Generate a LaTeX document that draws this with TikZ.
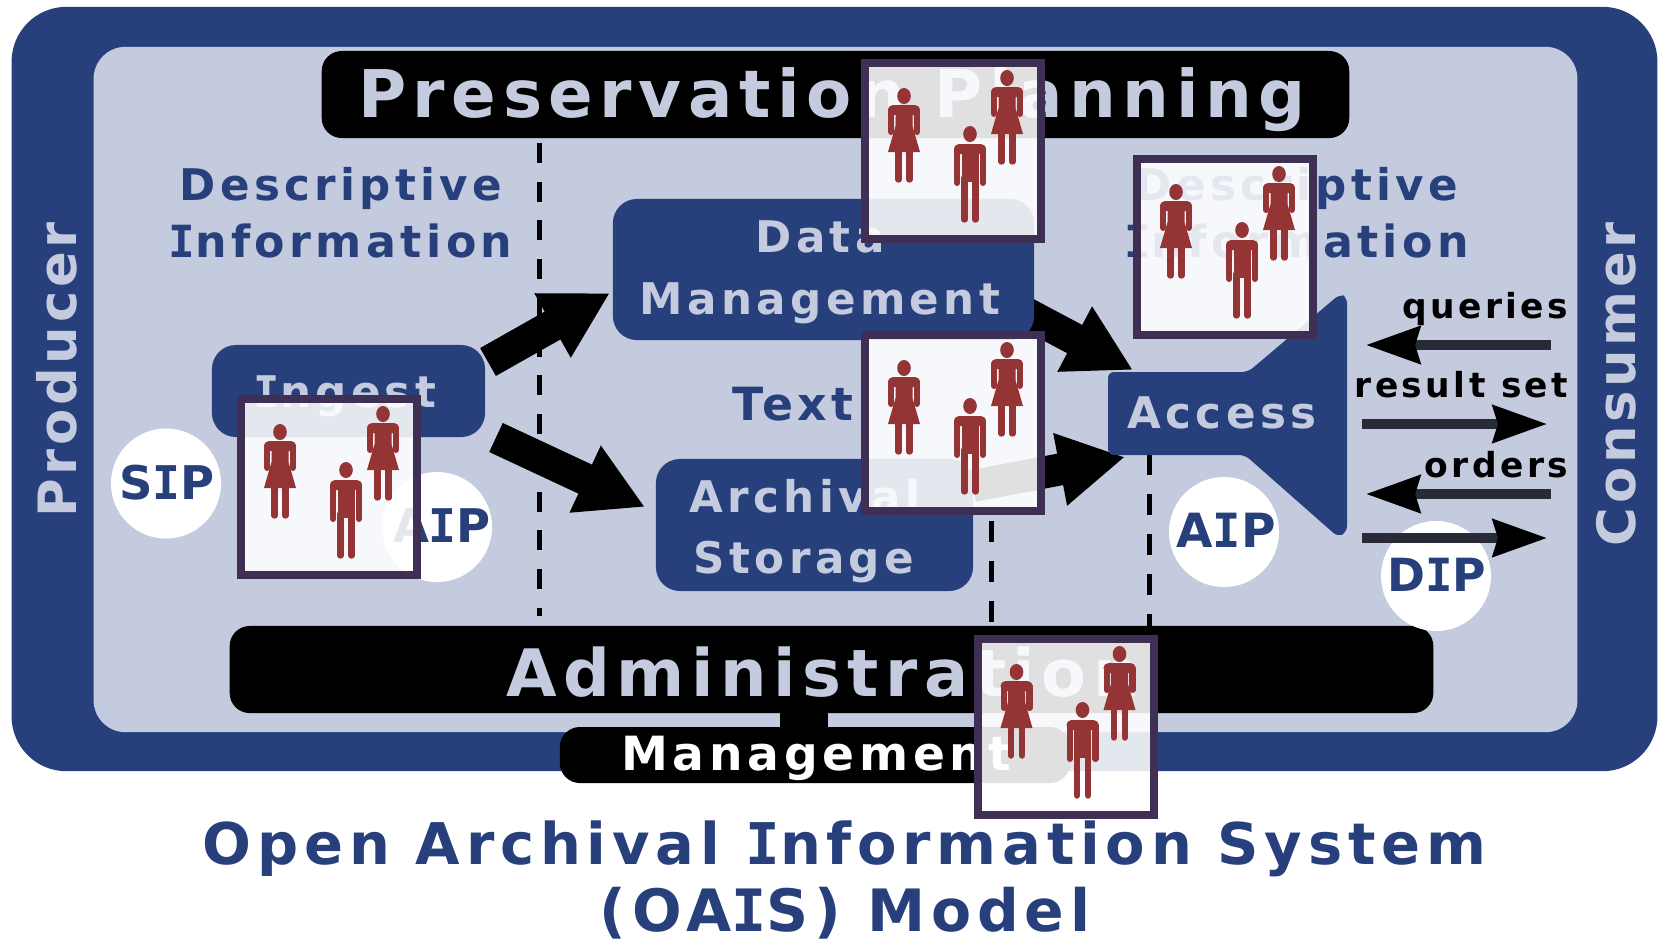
\documentclass[tikz,border=0pt]{standalone}
\usepackage{fontspec}
\setmainfont{DejaVu Sans}[LetterSpace=10]
\newfontfamily\slabfont{DejaVu Sans Mono}[LetterSpace=10]
\newfontfamily\sidefont{DejaVu Sans}[LetterSpace=7]
\newcommand\slabI{{\slabfont I}}
\usetikzlibrary{arrows.meta}

\definecolor{oaisblue}{HTML}{27407B}
\definecolor{oaislight}{HTML}{C4CBDF}
\definecolor{framepurple}{HTML}{402F55}
\definecolor{figred}{HTML}{943434}
\definecolor{arrowgrey}{HTML}{282B35}

\tikzset{
    label/.style={font=\bfseries\fontsize{#1}{#1}\selectfont, inner sep=0pt, anchor=base},
    panel/.style={fill=#1, inner sep=0pt},
    darkbox/.style={panel=black, rounded corners=.2cm},
    bluebox/.style={panel=oaisblue, rounded corners=.24cm},
    blob/.style={circle, fill=white, inner sep=0pt, minimum size=1.1cm},
    blockarrow/.style={line width=.32cm, -{Triangle[length=.66cm,width=.69cm]}},
    flowarrow/.style={arrowgrey, line width=.093cm, -{Stealth[length=.54cm,width=.37cm,inset=.05cm,black]}},
    dashline/.style={line width=.05cm, dash pattern=on .21cm off .19cm},
    limb/.style={figred, line width=.064cm, line cap=round},
    womanfig/.pic={
        \fill [figred] (0,0) ellipse [x radius=6.8, y radius=8];
        \fill [figred, rounded corners=.05cm] (-16,9) rectangle (16,19);
        \fill [figred] (-8.5,12) -- (8.5,12) -- (8.5,30) -- (16,56) -- (-16,56) -- (-8.5,30) -- cycle;
        \draw [limb] (-12.8,14) -- (-12.8,35.8);
        \draw [limb] (12.8,14) -- (12.8,35.8);
        \draw [limb] (-5.5,50) -- (-5.5,83.5);
        \draw [limb] (5.5,50) -- (5.5,83.5);
    },
    manfig/.pic={
        \fill [figred] (0,0) ellipse [x radius=6.8, y radius=8];
        \fill [figred, rounded corners=.05cm] (-16,10) rectangle (16,20);
        \fill [figred] (-8.5,12) rectangle (8.5,48);
        \draw [limb] (-12.8,15) -- (-12.8,48.8);
        \draw [limb] (12.8,15) -- (12.8,48.8);
        \draw [limb] (-5.5,44) -- (-5.5,85.5);
        \draw [limb] (5.5,44) -- (5.5,85.5);
    },
    staffframe/.pic={
        \filldraw [draw=framepurple, line width=.08cm, fill=white, fill opacity=.88] (4,4) rectangle (180,180);
        \pic at (43,37) {womanfig};
        \pic at (146,19) {womanfig};
        \pic at (109,75) {manfig};
    }
}

\begin{document}
\begin{tikzpicture}[x=.01cm, y=-.01cm]
    \useasboundingbox (0,0) rectangle (1663,944);

    % Background panels
    \node [panel=oaisblue, rounded corners=.55cm, minimum width=16.45cm, minimum height=7.64cm] (outer) at (834.5,389) {};
    \node [panel=oaislight, rounded corners=.32cm, minimum width=14.83cm, minimum height=6.85cm] (inner) at (835.5,389.5) {};

    % Arrows that run under the boxes
    \coordinate (datatail) at (1020,310);
    \coordinate (accesstop) at (1133,370);
    \coordinate (archivaltail) at (973,486);
    \coordinate (accessbot) at (1125,457);
    \draw [blockarrow] (datatail) -- (accesstop);
    \draw [blockarrow] (archivaltail) -- (accessbot);

    % Dashed dividers
    \coordinate (dashatop) at (539.5,143);
    \coordinate (dashabot) at (539.5,616);
    \coordinate (dashbtop) at (991.5,521);
    \coordinate (dashbbot) at (991.5,626);
    \coordinate (dashctop) at (1149,454);
    \coordinate (dashcbot) at (1149,626);
    \draw [dashline, dash pattern=on .2cm off .187cm] (dashatop) -- (dashabot);
    \draw [dashline] (dashbtop) -- (dashbbot);
    \draw [dashline] (dashctop) -- (dashcbot);

    % Boxes
    \node [darkbox, minimum width=10.27cm, minimum height=.87cm] (preservation) at (835.5,94.5) {};
    \node [darkbox, minimum width=12.03cm, minimum height=.87cm] (administration) at (831.5,669.5) {};
    \node [darkbox, minimum width=5.1cm, minimum height=.56cm] (management) at (815,755) {};
    \node [panel=black, minimum width=.48cm, minimum height=.2cm] (mgmtstub) at (804,720) {};
    \node [bluebox, minimum width=4.21cm, minimum height=1.41cm] (datamgmt) at (823.5,269.5) {};
    \node [bluebox, minimum width=2.73cm, minimum height=.92cm] (ingest) at (348.5,391) {};
    \node [bluebox, minimum width=3.17cm, minimum height=1.32cm] (archival) at (814.5,525) {};
    \fill [oaisblue, rounded corners=.06cm] (1108,372) -- (1248,372) -- (1340,294) -- (1347,297)
        -- (1347,532) -- (1338,537) -- (1245,455) -- (1108,455) -- cycle;

    % White circles
    \node [blob] (sip) at (166,483.5) {};
    \node [blob] (aipleft) at (437,527) {};
    \node [blob] (aipright) at (1224,532) {};
    \node [blob] (dip) at (1436,576) {};

    % Arrows from ingest
    \coordinate (ingesttop) at (488,362);
    \coordinate (datahead) at (610,293);
    \coordinate (ingestbot) at (496,437.5);
    \coordinate (archivalhead) at (645,507);
    \draw [blockarrow] (ingesttop) -- (datahead);
    \draw [blockarrow] (ingestbot) -- (archivalhead);

    % Consumer arrows
    \coordinate (qright) at (1551,345);
    \coordinate (qleft) at (1366,345);
    \coordinate (rleft) at (1362,424);
    \coordinate (rright) at (1547,424);
    \coordinate (oright) at (1551,494);
    \coordinate (oleft) at (1366,494);
    \coordinate (dleft) at (1362,538);
    \coordinate (dright) at (1547,538);
    \draw [flowarrow] (qright) -- (qleft);
    \draw [flowarrow] (rleft) -- (rright);
    \draw [flowarrow] (oright) -- (oleft);
    \draw [flowarrow] (dleft) -- (dright);

    % Labels
    \node [label=18.7, oaislight] (tpres) at (832,117) {Preservation Planning};
    \node [label=18.6, oaislight] (tadmin) at (823,696) {Administration};
    \node [label=13.4, white] (tmgmt) at (816,770) {Management};
    \node [label=12.4, oaisblue] (tdesca) at (341,200) {Descriptive};
    \node [label=12.6, oaisblue] (tinfoa) at (340.5,257) {\slabI nformation};
    \node [label=12.4, oaisblue] (tdescb) at (1297,200) {Descriptive};
    \node [label=12.6, oaisblue] (tinfob) at (1297,257) {\slabI nformation};
    \node [label=12.4, oaislight] (tdata) at (820,252) {Data};
    \node [label=12.4, oaislight] (tmanage) at (820,314) {Management};
    \node [label=12.4, oaislight] (tingest) at (345,407) {\slabI ngest};
    \node [label=13, oaisblue] (ttext) at (793,420) {Text};
    \node [label=12.4, oaislight] (tarchival) at (805,512) {Archival};
    \node [label=12.4, oaislight] (tstorage) at (804,573) {Storage};
    \node [label=12.4, oaislight] (taccess) at (1222,428) {Access};
    \node [label=13.2, oaisblue] (tsip) at (167,499) {S\slabI P};
    \node [label=13.2, oaisblue] (taipl) at (442,542) {A\slabI P};
    \node [label=13.4, oaisblue] (taipr) at (1226,547) {A\slabI P};
    \node [label=13, oaisblue] (tdip) at (1437,591) {D\slabI P};
    \node [label=9.8, anchor=base east] (tqueries) at (1569,318) {queries};
    \node [label=9.8, anchor=base east] (tresult) at (1569,397) {result set};
    \node [label=9.8, anchor=base east] (torders) at (1569,477) {orders};
    \node [label=15, oaislight, rotate=90, anchor=base] (tproducer) at (76,370) {\sidefont Producer};
    \node [label=15, oaislight, rotate=90, anchor=base] (tconsumer) at (1635,384) {\sidefont Consumer};
    \node [label=16.35, oaisblue] (tcaption) at (844.5,864) {Open Archival \slabI nformation System};
    \node [label=16.6, oaisblue] (tcaptionb) at (845,931) {(OA\slabI S) Model};

    % Staff frames
    \pic (staffa) at (861,59) {staffframe};
    \pic (staffb) at (1133,155) {staffframe};
    \pic (staffc) at (861,331) {staffframe};
    \pic (staffd) at (237,395) {staffframe};
    \pic (staffe) at (973.5,635) {staffframe};
\end{tikzpicture}
\end{document}
